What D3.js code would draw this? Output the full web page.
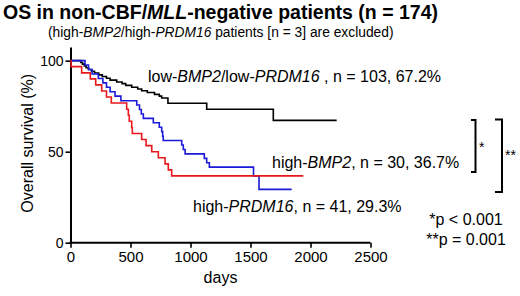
<!DOCTYPE html>
<html><head><meta charset="utf-8">
<script src="https://cdn.jsdelivr.net/npm/d3@7"></script>
<style>
html,body{margin:0;padding:0;background:#fff;}
svg{display:block;}
text{font-family:"Liberation Sans",Arial,Helvetica,sans-serif;fill:#000;}
</style></head>
<body>
<svg id="c" width="520" height="296"></svg>
<script>
// ---- data ----
const lowDays  = [0,85,100,115,130,150,175,200,235,265,300,330,385,430,460,510,560,593,640,700,740,760,812,1135,1690,2218];
const lowSurv  = [100,99.0,98.1,97.1,96.1,95.1,94.2,93.2,92.2,91.3,90.3,89.3,88.3,87.4,86.4,85.4,84.4,83.5,82.5,81.5,80.5,79.5,76.6,73.3,67.2,67.2];
const bmpDays  = [0,5,93,165,210,260,300,340,468,482,490,510,515,593,630,677,732,788,815,843,1940];
const bmpSurv  = [100,96.7,93.3,90,86.7,83.3,80,76.7,73.3,70,66.7,63.3,60,56.7,53.3,50,46.7,43.3,40,36.7,36.7];
const prdDays  = [0,121,150,180,232,270,300,330,371,420,552,575,590,607,690,740,760,768,773,927,940,955,1115,1135,1157,1525,1571,1843];
const prdSurv  = [100,97.6,95.1,92.7,90.2,87.8,85.4,82.9,80.5,78.0,75.6,73.2,70.7,68.3,65.9,63.4,61.0,58.5,56.1,53.7,51.2,48.8,46.3,43.9,41.5,36.6,29.3,29.3];
const xTicks = [0,500,1000,1500,2000,2500];
const yTicks = [0,50,100];

const svg = d3.select("#c");
const x = d3.scaleLinear().domain([0,2500]).range([70.5,370.5]);
const y = d3.scaleLinear().domain([0,107.5]).range([242.7,47]);

// axes
const gx = svg.append("g").attr("transform","translate(0,242.7)")
  .call(d3.axisBottom(x).tickValues(xTicks).tickFormat(d3.format("d")).tickSize(5).tickSizeOuter(0).tickPadding(4));
const gy = svg.append("g").attr("transform","translate(70.5,0)")
  .call(d3.axisLeft(y).tickValues(yTicks).tickFormat(d3.format("d")).tickSize(5).tickSizeOuter(0).tickPadding(2));
[gx,gy].forEach(g=>{
  g.select(".domain").attr("stroke","#000").attr("stroke-width",2);
  g.selectAll(".tick line").attr("stroke","#000").attr("stroke-width",1.6);
  g.selectAll(".tick text").attr("fill","#000").style("font-family",'"Liberation Sans",Arial,sans-serif');
});
gx.selectAll(".tick text").style("font-size","15px");
gy.selectAll(".tick text").style("font-size","14px");
gx.select(".domain").attr("d","M69.5,0H370.5");

// curves
const line = d3.line().x(d=>x(d[0])).y(d=>y(d[1])).curve(d3.curveStepAfter);
const series = [
  {days:lowDays, surv:lowSurv, color:"#000000"},
  {days:prdDays, surv:prdSurv, color:"#1a1ad8"},
  {days:bmpDays, surv:bmpSurv, color:"#e8181c"}
];
series.forEach(s=>{
  const pts = s.days.map((d,i)=>[d,s.surv[i]]);
  svg.append("path").attr("d",line(pts)).attr("fill","none")
    .attr("stroke",s.color).attr("stroke-width",1.6);
});

// titles
const t = svg.append("text").attr("x",3).attr("y",19).style("font-size","19.5px").style("font-weight","bold");
t.append("tspan").text("OS in non-CBF/");
t.append("tspan").style("font-style","italic").text("MLL");
t.append("tspan").text("-negative patients (n = 174)");

const st = svg.append("text").attr("x",48).attr("y",37).style("font-size","13.8px");
st.append("tspan").text("(high-");
st.append("tspan").style("font-style","italic").text("BMP2");
st.append("tspan").text("/high-");
st.append("tspan").style("font-style","italic").text("PRDM16");
st.append("tspan").text(" patients [n = 3] are excluded)");

// axis titles
svg.append("text").attr("transform","translate(33,143.3) rotate(-90)")
  .attr("text-anchor","middle").style("font-size","16px").text("Overall survival (%)");
svg.append("text").attr("x",220.5).attr("y",283).attr("text-anchor","middle")
  .style("font-size","16px").text("days");

// curve labels
function label(xp,yp,parts){
  const tx = svg.append("text").attr("x",xp).attr("y",yp).style("font-size","16px");
  parts.forEach(p=>tx.append("tspan").style("font-style",p[1]?"italic":"normal").text(p[0]));
  return tx;
}
label(148,82,[["low-"],["BMP2",1],["/low-"],["PRDM16",1],[" , n = 103, 67.2%"]]);
label(272,168,[["high-"],["BMP2",1],[", n = 30, 36.7%"]]);
label(193,212,[["high-"],["PRDM16",1],[", n = 41, 29.3%"]]);

// significance brackets
const br = svg.append("g").attr("fill","none").attr("stroke","#000").attr("stroke-width",2);
br.append("path").attr("d","M471,120H475.5V172H471");
br.append("path").attr("d","M495,119.5H502V192H495");
svg.append("text").attr("x",479).attr("y",152).style("font-size","14px").text("*");
svg.append("text").attr("x",505).attr("y",160).style("font-size","14px").text("**");

svg.append("text").attr("x",466).attr("y",225).attr("text-anchor","middle").style("font-size","16px").text("*p < 0.001");
svg.append("text").attr("x",466).attr("y",245).attr("text-anchor","middle").style("font-size","16px").text("**p = 0.001");
</script>
</body></html>
